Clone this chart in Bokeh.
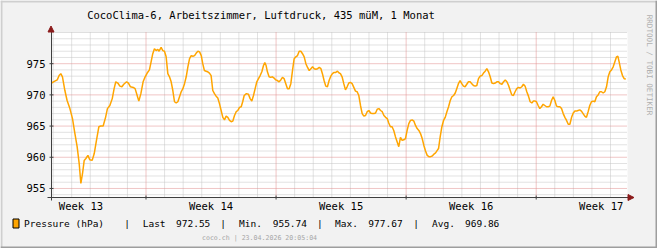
import math
from bokeh.plotting import figure
from bokeh.models import Range1d
from bokeh.core.properties import value
from bokeh.embed import file_html
from bokeh.resources import INLINE

# ---------------- data ----------------
TITLE = "CocoClima-6, Arbeitszimmer, Luftdruck, 435 müM, 1 Monat"
SERIES_NAME = "Pressure (hPa)"
FOOTER = "coco.ch  | 23.04.2026 20:05:04"
WATERMARK = "RRDTOOL / TOBI OETIKER"

DAYS_SHOWN = 31                 # x axis: days since window start
FIRST_MIDNIGHT = 0.086          # first day boundary (days after start)
WEEK_STARTS = [5.086, 12.086, 19.086, 26.086]
WEEK_LABELS = ["Week 13", "Week 14", "Week 15", "Week 16", "Week 17"]
Y_LOW, Y_HIGH = 953.55, 980.0
Y_MAJOR = [955, 960, 965, 970, 975]
Y_TICK_LABELS = ["955", "960", "965", "970", "975"]

STAT_NAMES = ["Last", "Min.", "Max.", "Avg."]
STAT_VALUES = ["972.55", "955.74", "977.67", "969.86"]

t_days = [
    0.00, 0.18, 0.31, 0.41, 0.50, 0.59, 0.72, 0.84, 0.99, 1.13, 1.26, 1.38, 1.49, 1.58, 1.67,
    1.76, 1.85, 1.96, 2.06, 2.19, 2.30, 2.42, 2.55, 2.65, 2.78, 2.91, 3.01, 3.14, 3.27, 3.37,
    3.46, 3.57, 3.68, 3.79, 3.89, 4.04, 4.14, 4.25, 4.40, 4.50, 4.61, 4.70, 4.81, 4.93, 5.04,
    5.15, 5.27, 5.36, 5.45, 5.54, 5.63, 5.72, 5.79, 5.90, 5.99, 6.08, 6.17, 6.26, 6.35, 6.44,
    6.53, 6.62, 6.71, 6.80, 6.89, 6.98, 7.07, 7.16, 7.25, 7.34, 7.43, 7.52, 7.61, 7.70, 7.79,
    7.88, 7.97, 8.06, 8.14, 8.23, 8.32, 8.41, 8.50, 8.59, 8.68, 8.77, 8.86, 8.95, 9.04, 9.13,
    9.22, 9.31, 9.40, 9.49, 9.58, 9.67, 9.76, 9.85, 9.94, 10.03, 10.12, 10.21,
    10.29, 10.37, 10.49, 10.60, 10.69, 10.78, 10.87, 10.96, 11.05, 11.14, 11.23, 11.32, 11.41,
    11.48, 11.55, 11.62, 11.71, 11.80, 11.89, 11.98, 12.07, 12.16, 12.25, 12.34, 12.43, 12.52,
    12.61, 12.70, 12.79, 12.88, 12.97, 13.06, 13.15, 13.24, 13.33, 13.42, 13.51, 13.60, 13.69,
    13.78, 13.87, 13.96, 14.05, 14.14, 14.23, 14.32, 14.41, 14.50, 14.58, 14.67, 14.76, 14.85,
    14.94, 15.03, 15.12, 15.21, 15.30, 15.39, 15.48,
    15.55, 15.64, 15.73, 15.82, 15.91, 16.00, 16.09, 16.18, 16.27, 16.36, 16.45, 16.54, 16.63,
    16.72, 16.81, 16.90, 16.99, 17.08, 17.17, 17.26, 17.35, 17.44, 17.53, 17.62, 17.71, 17.80,
    17.89, 17.98, 18.07, 18.15, 18.24, 18.33, 18.42, 18.51, 18.60, 18.69, 18.78, 18.87, 18.96,
    19.05, 19.14, 19.23, 19.32, 19.41, 19.50, 19.59, 19.68, 19.77, 19.86, 19.95, 20.04, 20.13,
    20.22, 20.31, 20.40, 20.49, 20.58, 20.67, 20.76,
    20.83, 20.92, 21.01, 21.10, 21.19, 21.28, 21.37, 21.46, 21.55, 21.64, 21.73, 21.81, 21.90,
    21.99, 22.08, 22.17, 22.26, 22.35, 22.44, 22.53, 22.62, 22.71, 22.80, 22.89, 22.98, 23.07,
    23.16, 23.25, 23.34, 23.43, 23.52, 23.61, 23.70, 23.79, 23.88, 23.97, 24.06, 24.15, 24.24,
    24.33, 24.42, 24.51, 24.60, 24.69, 24.77, 24.86, 24.95, 25.04, 25.13, 25.22, 25.31, 25.40,
    25.49, 25.58, 25.67, 25.76, 25.85, 25.94, 26.03,
    26.10, 26.19, 26.28, 26.37, 26.46, 26.55, 26.64, 26.73, 26.82, 26.91, 27.00, 27.09, 27.18,
    27.27, 27.36, 27.45, 27.54, 27.63, 27.72, 27.81, 27.90, 27.99, 28.08, 28.17, 28.26, 28.34,
    28.43, 28.52, 28.61, 28.70, 28.79, 28.88, 28.97, 29.06, 29.15, 29.24, 29.33, 29.42, 29.51,
    29.60, 29.69, 29.78, 29.87, 29.96, 30.05, 30.14, 30.23, 30.32, 30.41, 30.48, 30.55, 30.64,
    30.73, 30.82, 30.91,
]

pressure = [
    971.9, 972.2, 972.4, 973.1, 973.4, 972.9, 970.7, 969.1, 967.8, 966.2, 963.8, 961.7, 959.0, 955.8, 957.4,
    959.5, 959.8, 960.3, 959.6, 959.5, 960.6, 962.7, 964.9, 965.0, 965.0, 966.4, 967.8, 968.3, 969.4, 971.0,
    972.1, 971.9, 971.4, 971.3, 971.7, 972.1, 971.9, 971.3, 971.2, 971.0, 969.9, 969.0, 970.2, 972.1, 972.9,
    973.5, 974.0, 975.3, 976.6, 977.4, 977.1, 977.3, 977.0, 977.6, 977.1, 977.0, 976.1, 973.4, 972.9, 972.1,
    970.7, 968.9, 968.7, 968.9, 969.7, 970.5, 971.0, 971.8, 972.9, 974.5, 975.8, 976.3, 976.2, 976.3, 976.7,
    977.0, 976.9, 976.3, 975.0, 973.9, 973.8, 973.7, 973.5, 973.1, 970.7, 970.2, 969.8, 969.5, 968.6, 967.5,
    966.4, 966.0, 966.6, 966.4, 965.9, 965.7, 965.8, 966.7, 967.3, 967.5, 968.0, 968.1,
    968.9, 969.9, 970.2, 970.1, 969.4, 969.0, 969.9, 971.0, 972.1, 972.6, 973.1, 973.7, 974.7,
    975.2, 974.7, 973.7, 972.9, 972.8, 972.9, 972.7, 972.4, 972.3, 972.1, 972.4, 972.8, 972.6,
    971.8, 971.0, 971.0, 971.8, 973.9, 975.8, 976.1, 976.3, 977.0, 977.0, 976.6, 976.1, 975.0,
    974.4, 973.9, 974.2, 974.5, 974.2, 974.1, 974.2, 974.4, 974.2, 973.4, 972.3, 971.4, 971.3,
    972.3, 973.0, 973.4, 973.6, 973.6, 973.8, 973.5,
    973.4, 972.9, 971.8, 970.8, 971.3, 971.9, 972.0, 971.8, 971.2, 970.6, 970.5, 969.9, 968.3,
    967.0, 966.6, 966.7, 967.3, 967.5, 967.1, 967.0, 967.0, 967.1, 967.7, 967.8, 967.5, 967.3,
    966.7, 966.4, 966.2, 965.5, 964.9, 964.9, 964.3, 963.3, 962.5, 961.7, 963.2, 962.7, 962.8,
    963.0, 964.3, 965.4, 965.9, 966.0, 965.8, 965.1, 964.6, 964.3, 963.8, 963.0, 961.9, 961.0,
    960.3, 960.1, 960.1, 960.2, 960.5, 960.7, 961.1,
    961.4, 963.3, 964.9, 965.9, 966.4, 967.3, 968.1, 969.1, 969.7, 969.9, 970.3, 971.0, 971.8,
    972.3, 971.8, 971.4, 971.3, 971.7, 972.1, 972.1, 971.8, 971.5, 971.4, 971.5, 972.6, 973.0,
    973.1, 973.5, 973.8, 974.2, 973.7, 972.9, 971.9, 971.8, 971.9, 972.1, 972.1, 971.8, 971.7,
    972.1, 972.4, 972.1, 971.5, 970.7, 970.0, 969.9, 970.5, 971.0, 971.2, 971.1, 971.3, 971.7,
    971.4, 970.5, 969.8, 968.9, 968.7, 969.0, 969.0,
    968.9, 968.3, 967.8, 968.1, 968.5, 968.3, 968.1, 968.1, 968.2, 969.1, 969.7, 969.1, 968.2,
    968.1, 968.1, 967.8, 967.0, 966.4, 965.9, 965.3, 965.3, 966.4, 967.1, 967.4, 967.4, 967.5,
    967.6, 967.4, 967.0, 966.6, 966.4, 967.3, 968.3, 968.9, 969.0, 968.9, 969.7, 970.0, 970.5,
    970.5, 970.3, 970.5, 971.3, 972.9, 973.7, 974.0, 974.5, 975.3, 976.1, 976.2, 975.3, 974.0,
    973.1, 972.6, 972.55,
]

# derived tick lists
day_lines = [FIRST_MIDNIGHT + i for i in range(DAYS_SHOWN)
             if all(abs(FIRST_MIDNIGHT + i - w) > 1e-6 for w in WEEK_STARTS)]
label_pos = [WEEK_STARTS[0] - 3.5 + 7 * i for i in range(len(WEEK_LABELS))]
y_minor = [v for v in range(954, 981) if v not in Y_MAJOR]

MONO = value("DejaVu Sans Mono")

# ---------------- layout (pixels) ----------------
W, H = 657, 248
FL, FR, FT, FB = 51, 627, 32, 197          # plot area edges in canvas pixels
DAY_PX = (FR - FL) / DAYS_SHOWN             # pixels per day
HPA_PX = (FB - FT) / (Y_HIGH - Y_LOW)       # pixels per hPa

# The frame covers the whole canvas; the default ranges are canvas pixels (y down),
# the extra ranges place days / hPa onto the plot area.
p = figure(width=W, height=H, x_range=Range1d(0, W), y_range=Range1d(H, 0),
           output_backend="svg", toolbar_location=None, x_axis_type=None, y_axis_type=None,
           min_border=0, min_border_left=0, min_border_right=0, min_border_top=0, min_border_bottom=0,
           background_fill_color="#f2f2f2", border_fill_color="#f2f2f2")
p.outline_line_color = None
p.extra_x_ranges = {"days": Range1d(-FL / DAY_PX, (W - FL) / DAY_PX)}
p.extra_y_ranges = {"hpa": Range1d(Y_LOW - (H - FB) / HPA_PX, Y_LOW + FB / HPA_PX)}
D = dict(x_range_name="days", y_range_name="hpa")

# plot canvas
p.quad(left=[0], right=[DAYS_SHOWN], bottom=[Y_LOW], top=[Y_HIGH], fill_color="#ffffff",
       line_color=None, **D)

# grid
minor = dict(line_color="#c4c4c4", line_dash="1 1", line_width=1)
major = dict(line_color="#e08c8c", line_dash="1 1", line_width=1)
p.segment(x0=day_lines, x1=day_lines, y0=[Y_LOW] * len(day_lines), y1=[Y_HIGH] * len(day_lines), **minor, **D)
p.segment(x0=[0] * len(y_minor), x1=[DAYS_SHOWN] * len(y_minor), y0=y_minor, y1=y_minor, **minor, **D)
p.segment(x0=WEEK_STARTS, x1=WEEK_STARTS, y0=[Y_LOW] * 4, y1=[Y_HIGH] * 4, **major, **D)
p.segment(x0=[0] * 5, x1=[DAYS_SHOWN] * 5, y0=Y_MAJOR, y1=Y_MAJOR, **major, **D)

# series
p.line(t_days, pressure, line_color="#ffa500", line_width=1.5, **D)

# axes
AX = "#404040"
p.segment(x0=[0], x1=[0], y0=[Y_LOW - 3 / HPA_PX], y1=[Y_HIGH + 1 / HPA_PX], line_color=AX, line_width=1, **D)
p.segment(x0=[-4 / DAY_PX], x1=[DAYS_SHOWN + 1 / DAY_PX], y0=[Y_LOW], y1=[Y_LOW], line_color=AX, line_width=1, **D)
p.segment(x0=[-2 / DAY_PX] * 5, x1=[2 / DAY_PX] * 5, y0=Y_MAJOR, y1=Y_MAJOR, line_color=AX, **D)
p.segment(x0=WEEK_STARTS, x1=WEEK_STARTS, y0=[Y_LOW - 2 / HPA_PX] * 4, y1=[Y_LOW + 2 / HPA_PX] * 4,
          line_color=AX, **D)
p.text(x=[0] * 5, y=Y_MAJOR, text=Y_TICK_LABELS, x_offset=-6, text_font=MONO, text_font_size=value("10.5px"),
       text_align="right", text_baseline="middle", text_color="#000000", **D)
p.text(x=label_pos, y=[Y_LOW] * len(label_pos), text=WEEK_LABELS, y_offset=8.7, text_font=MONO,
       text_font_size=value("10.5px"), text_align="center", text_baseline="middle", text_color="#000000", **D)

# arrow heads
ARROW = "#8b1a1a"
p.patch(x=[FL - 3.5, FL - 0.5, FL + 2.5], y=[FT - 0.5, FT - 6.5, FT - 0.5], fill_color=ARROW, line_color=ARROW)
p.patch(x=[FR + 0.5, FR + 6.5, FR + 0.5], y=[FB - 3, FB, FB + 3], fill_color=ARROW, line_color=ARROW)

def text(px, py, txt, size, color="#000000", align="left", angle=0.0):
    p.text(x=[px], y=[py], text=[txt], text_font=MONO, text_font_size=value(size), text_align=align,
           text_baseline="middle", text_color=color, angle=angle)

# title / footer / watermark
text(260.5, 14, TITLE, "10.5px", align="center")
text(261, 237.5, FOOTER, "6.6px", color="#a6a6a6", align="center")
text(648.5, 64.5, WATERMARK, "7.6px", color="#b0b0b0", align="center", angle=-math.pi / 2)

# legend row
LEG_Y = 222.7
p.quad(left=[12.5], right=[18.5], top=[218.5], bottom=[227.5], fill_color="#ffa500", line_color="#000000", line_width=1)
text(23.5, LEG_Y, SERIES_NAME, "9.5px")
for bx in (126.7, 222.7, 319.3, 415.7):
    text(bx, LEG_Y, "|", "9.5px", align="center")
for nx, vx, name, val in zip((142.2, 238.5, 334.5, 431.5), (175.5, 272.2, 367.8, 464.5), STAT_NAMES, STAT_VALUES):
    text(nx, LEG_Y, name, "9.5px")
    text(vx, LEG_Y, val, "9.5px")

# 3D frame border like rrdtool
p.quad(left=[0, 0, W - 2, 0], right=[W, 2, W, W], top=[0, 0, 0, H - 2], bottom=[2, H, H, H],
       fill_color=["#cfcfcf", "#cfcfcf", "#9e9e9e", "#9e9e9e"], line_color=None)

open("out.html", "w").write(file_html(p, INLINE))
